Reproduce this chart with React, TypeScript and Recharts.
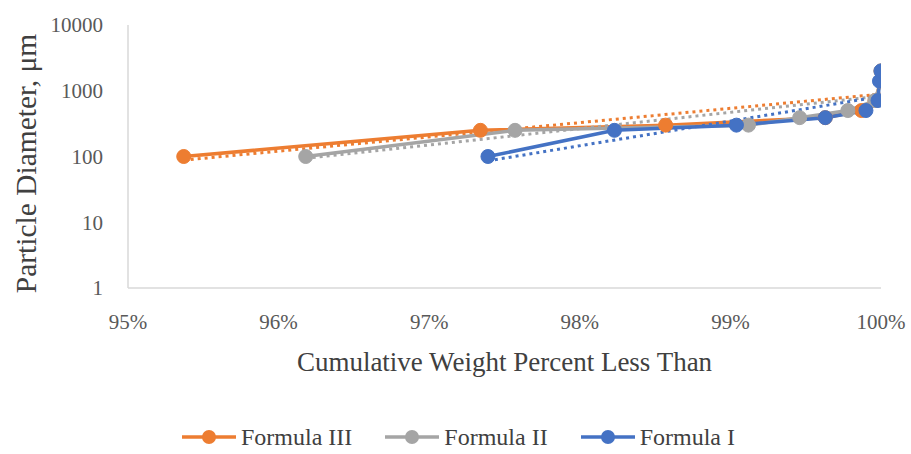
import React from 'react';
import { LineChart, Line, XAxis, YAxis, Legend, Label } from 'recharts';

const FONT = '"Liberation Serif", "Times New Roman", serif';

// Formula III (orange)
const formula3Pct = [95.37, 97.34, 98.57, 99.63, 99.87, 99.96, 100, 100];
const formula3Size = [100, 250, 300, 390, 500, 710, 1400, 2000];
// Formula II (gray)
const formula2Pct = [96.18, 97.57, 99.12, 99.46, 99.78, 99.96, 100, 100];
const formula2Size = [100, 250, 300, 390, 500, 710, 1400, 2000];
// Formula I (blue)
const formula1Pct = [97.39, 98.23, 99.04, 99.63, 99.9, 99.98, 99.99, 100];
const formula1Size = [100, 250, 300, 390, 500, 710, 1400, 2000];

// dotted exponential trendlines (end points)
const trend3Pct = [95.37, 100];
const trend3Size = [88, 890];
const trend2Pct = [96.18, 100];
const trend2Size = [94, 830];
const trend1Pct = [97.39, 100];
const trend1Size = [86, 820];

const xTicks = [95, 96, 97, 98, 99, 100];
const yTicks = [1, 10, 100, 1000, 10000];

const seriesNames = ['Formula III', 'Formula II', 'Formula I'];
const colors = ['#ED7D31', '#A5A5A5', '#4472C4'];

const zip = (xs: number[], ys: number[]) => xs.map((x, i) => ({ x, y: ys[i] }));

const s3 = zip(formula3Pct, formula3Size);
const s2 = zip(formula2Pct, formula2Size);
const s1 = zip(formula1Pct, formula1Size);
const t3 = zip(trend3Pct, trend3Size);
const t2 = zip(trend2Pct, trend2Size);
const t1 = zip(trend1Pct, trend1Size);

const renderLegend = () => {
  return (
    <div
      style={{
        display: 'flex',
        justifyContent: 'center',
        alignItems: 'center',
        fontFamily: FONT,
        fontSize: 24,
        color: '#404040',
        lineHeight: '28px',
        paddingLeft: 6,
      }}
    >
      {seriesNames.map((name, i) => {
        const c = colors[i];
        return (
          <div
            key={name}
            style={{ display: 'flex', alignItems: 'center', marginRight: i < seriesNames.length - 1 ? 33 : 0 }}
          >
            <svg width={54} height={16} style={{ display: 'block' }}>
              <line x1={0} y1={8} x2={54} y2={8} stroke={c} strokeWidth={3.5} />
              <circle cx={27} cy={8} r={7} fill={c} />
            </svg>
            <span style={{ marginLeft: 5 }}>{name}</span>
          </div>
        );
      })}
    </div>
  );
};

const YTitle = (props: any) => {
  const { x, y, height } = props.viewBox;
  const cx = x + 26;
  const cy = y + height / 2 + 7;
  return (
    <text
      x={cx}
      y={cy}
      transform={`rotate(-90 ${cx} ${cy})`}
      textAnchor="middle"
      dominantBaseline="central"
      fontFamily={FONT}
      fontSize={29.5}
      fill="#404040"
    >
      Particle Diameter, μm
    </text>
  );
};

const XTitle = (props: any) => {
  const { x, y, width } = props.viewBox;
  return (
    <text
      x={x + width / 2}
      y={y + 74}
      textAnchor="middle"
      dominantBaseline="central"
      fontFamily={FONT}
      fontSize={27}
      fill="#404040"
    >
      Cumulative Weight Percent Less Than
    </text>
  );
};

const tickStyle = { fontFamily: FONT, fontSize: 21, fill: '#595959' };

export default function App() {
  return (
    <div style={{ position: 'absolute', left: 0, top: 0, width: 911, height: 454, background: '#fff' }}>
      <LineChart width={911} height={454} margin={{ top: 25, right: 30, bottom: 0, left: 0 }}>
        <XAxis
          dataKey="x"
          type="number"
          domain={[95, 100]}
          ticks={xTicks}
          allowDataOverflow
          tickFormatter={(v: number) => `${v}%`}
          axisLine={{ stroke: '#d9d9d9', strokeWidth: 1.5 }}
          tickLine={false}
          tickSize={0}
          tickMargin={26}
          tick={tickStyle}
          height={166}
          interval={0}
        >
          <Label content={XTitle} />
        </XAxis>
        <YAxis
          dataKey="y"
          scale="log"
          domain={[1, 10000]}
          ticks={yTicks}
          allowDataOverflow
          axisLine={{ stroke: '#d9d9d9', strokeWidth: 1.5 }}
          tickLine={false}
          tickSize={0}
          tickMargin={25}
          tick={tickStyle}
          width={128}
          interval={0}
        >
          <Label content={YTitle} />
        </YAxis>
        <Legend
          content={renderLegend}
          layout="horizontal"
          verticalAlign="middle"
          align="center"
          width={911}
          wrapperStyle={{ top: 423, left: 0 }}
        />
        <Line
          data={s3}
          dataKey="y"
          name="Formula III"
          stroke={colors[0]}
          strokeWidth={3.5}
          dot={{ r: 7, fill: colors[0], stroke: colors[0], strokeWidth: 1 }}
          isAnimationActive={false}
        />
        <Line
          data={t3}
          dataKey="y"
          name="trend3"
          stroke={colors[0]}
          strokeWidth={3}
          strokeDasharray="3 4"
          dot={false}
          legendType="none"
          isAnimationActive={false}
        />
        <Line
          data={s2}
          dataKey="y"
          name="Formula II"
          stroke={colors[1]}
          strokeWidth={3.5}
          dot={{ r: 7, fill: colors[1], stroke: colors[1], strokeWidth: 1 }}
          isAnimationActive={false}
        />
        <Line
          data={t2}
          dataKey="y"
          name="trend2"
          stroke={colors[1]}
          strokeWidth={3}
          strokeDasharray="3 4"
          dot={false}
          legendType="none"
          isAnimationActive={false}
        />
        <Line
          data={s1}
          dataKey="y"
          name="Formula I"
          stroke={colors[2]}
          strokeWidth={3.5}
          dot={{ r: 7, fill: colors[2], stroke: colors[2], strokeWidth: 1 }}
          isAnimationActive={false}
        />
        <Line
          data={t1}
          dataKey="y"
          name="trend1"
          stroke={colors[2]}
          strokeWidth={3}
          strokeDasharray="3 4"
          dot={false}
          legendType="none"
          isAnimationActive={false}
        />
      </LineChart>
    </div>
  );
}
